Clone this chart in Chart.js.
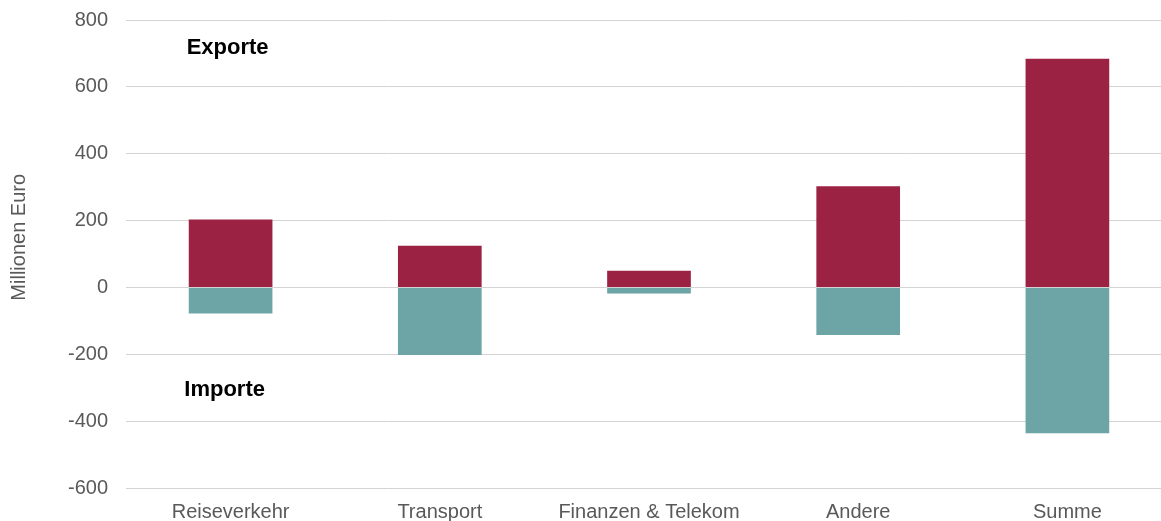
<!DOCTYPE html>
<html>
<head>
<meta charset="utf-8">
<script src="https://cdn.jsdelivr.net/npm/chart.js@4/dist/chart.umd.min.js"></script>
<style>
html,body{margin:0;padding:0;background:#fff;overflow:hidden;}
#wrap{width:1172px;height:521px;}
</style>
</head>
<body>
<div id="wrap"><canvas id="c" width="1172" height="521"></canvas></div>
<script>
const categories = ["Reiseverkehr", "Transport", "Finanzen & Telekom", "Andere", "Summe"];
const exporte = [203, 125, 50, 303, 684];
const importe = [-78, -202, -18, -142, -436];
const yTicks = [-600, -400, -200, 0, 200, 400, 600, 800];
const yTitle = 'Millionen Euro';

const FONT = '"Liberation Sans", Arial, sans-serif';

const labelPlugin = {
  id: 'annot',
  afterDatasetsDraw(chart) {
    const {ctx, scales} = chart;
    const x = scales.x.getPixelForValue(0);
    ctx.save();
    ctx.font = 'bold 22px ' + FONT;
    ctx.fillStyle = '#000';
    ctx.textAlign = 'center';
    ctx.textBaseline = 'middle';
    ctx.fillText('Exporte', x - 3, scales.y.getPixelForValue(716));
    ctx.fillText('Importe', x - 6, scales.y.getPixelForValue(-307));
    ctx.restore();
    // y axis title
    ctx.save();
    ctx.font = '20px ' + FONT;
    ctx.fillStyle = '#595959';
    ctx.textAlign = 'center';
    ctx.textBaseline = 'middle';
    ctx.translate(19, scales.y.getPixelForValue(150));
    ctx.rotate(-Math.PI / 2);
    ctx.fillText(yTitle, 0, 0);
    ctx.restore();
  }
};

new Chart(document.getElementById('c'), {
  type: 'bar',
  data: {
    labels: categories,
    datasets: [
      {label: 'Exporte', data: exporte, backgroundColor: '#9B2242', barPercentage: 0.8, categoryPercentage: 0.5},
      {label: 'Importe', data: importe, backgroundColor: '#6DA4A6', barPercentage: 0.8, categoryPercentage: 0.5}
    ]
  },
  options: {
    responsive: false,
    animation: false,
    layout: {padding: {top: 0, left: 0, right: 0, bottom: 0}},
    plugins: {legend: {display: false}, tooltip: {enabled: false}},
    scales: {
      x: {
        stacked: true,
        grid: {display: false, drawTicks: false},
        border: {display: false},
        afterFit(axis) { axis.height = 33; axis.paddingLeft = 0; axis.paddingRight = 0; },
        ticks: {color: '#595959', font: {size: 20, family: FONT}, padding: 12}
      },
      y: {
        stacked: true,
        min: -600, max: 800,
        afterBuildTicks(axis) { axis.ticks = yTicks.map(v => ({value: v})); },
        afterFit(axis) { axis.width = 126; axis.paddingTop = 20; axis.paddingBottom = 0; },
        grid: {color: '#d4d4d4', lineWidth: 1, drawTicks: false},
        border: {display: false},
        ticks: {color: '#595959', font: {size: 20, family: FONT}, padding: 18},
        title: {display: false}
      }
    }
  },
  plugins: [labelPlugin]
});
</script>
</body>
</html>
